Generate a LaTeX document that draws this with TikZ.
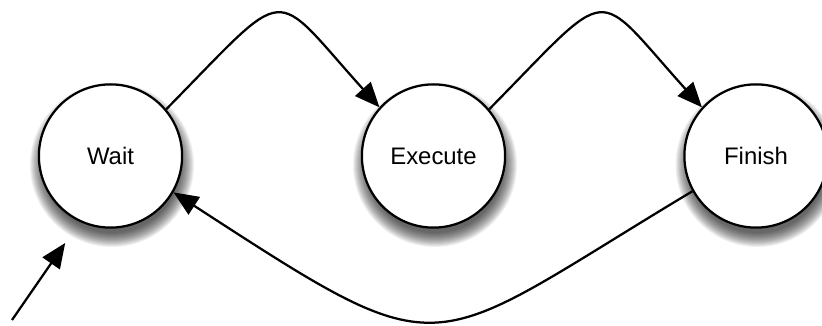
\documentclass[tikz,border=0pt]{standalone}
\usepackage{fontspec}
\setmainfont{Liberation Sans}
\usetikzlibrary{arrows.meta}

\begin{document}
\begin{tikzpicture}[x=0.025cm, y=0.025cm, >={Triangle[length=0.62cm, width=0.52cm]}, line width=1.6pt,
  statenode/.style={circle, draw=black, fill=white, minimum size=3.58cm, inner sep=0pt,
    font=\fontsize{17}{20}\selectfont}]

% Canvas
\useasboundingbox (0,0) rectangle (822,326);

% ============================================================
% Soft shadows under the states
% ============================================================
\foreach \cx in {110.5, 433.5, 756} {
  \foreach \r in {68,...,82} {
    \fill[black, opacity=0.06] ({\cx+1.5},161) circle (\r);
  }
}

% ============================================================
% States
% ============================================================
\node[statenode] (wait) at (110.5,170) {Wait};
\node[statenode] (exec) at (433.5,170) {Execute};
\node[statenode] (fin)  at (756,170)   {Finish};

% Initial arrow
\coordinate (init) at (12,6);
\draw[->, shorten >=0.64cm] (init) -- (wait.245);

% ============================================================
% Transitions
% ============================================================
\draw[->] (wait.40) .. controls +(126,128) and +(-110,122) .. (exec.138);
\draw[->] (exec.40) .. controls +(126,128) and +(-110,122) .. (fin.138);
\draw[->] (fin.209) .. controls +(-272,-163) and +(279,-181) .. (wait.-30);

\end{tikzpicture}
\end{document}
